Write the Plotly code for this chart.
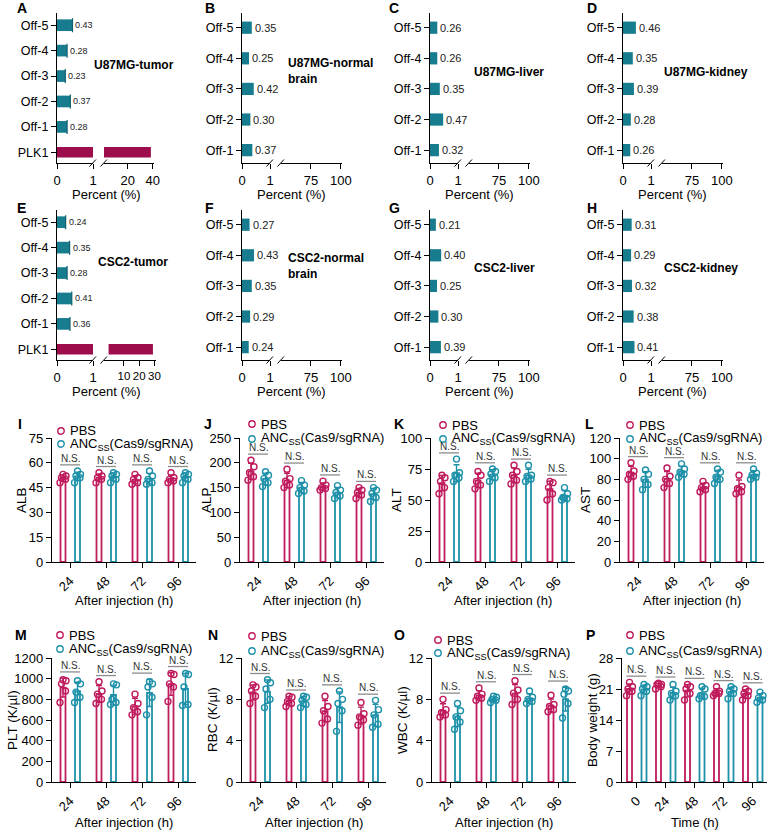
import numpy as np
import plotly.graph_objects as go

W, H = 771, 833
FONT = "Liberation Sans, Arial, Helvetica, sans-serif"

# ---------------- data: off-target editing (order Off-1 .. Off-5) ----------------
off_labels = ["Off-1", "Off-2", "Off-3", "Off-4", "Off-5"]
u87_tumor = [0.28, 0.37, 0.23, 0.28, 0.43]
u87_tumor_plk1 = 38.5
u87_brain = [0.37, 0.30, 0.42, 0.25, 0.35]
u87_liver = [0.32, 0.47, 0.35, 0.26, 0.26]
u87_kidney = [0.26, 0.28, 0.39, 0.35, 0.46]
csc2_tumor = [0.36, 0.41, 0.28, 0.35, 0.24]
csc2_tumor_plk1 = 29.0
csc2_brain = [0.24, 0.29, 0.35, 0.43, 0.27]
csc2_liver = [0.39, 0.30, 0.25, 0.40, 0.21]
csc2_kidney = [0.41, 0.38, 0.32, 0.29, 0.31]

# ---------------- data: blood chemistry / haematology ----------------
inj_times = ["24", "48", "72", "96"]
bw_times = ["0", "24", "48", "72", "96"]

alb_pbs = [[48, 50, 51, 52, 53], [48, 50, 51, 52, 54], [47, 48, 50, 51, 53], [48, 49, 50, 51, 54]]
alb_anc = [[48, 51, 52, 53, 55], [48, 50, 52, 53, 54], [47, 48, 50, 52, 55], [48, 50, 52, 53, 54]]

alp_pbs = [[165, 172, 180, 192, 205], [150, 155, 163, 168, 187], [145, 148, 150, 155, 163], [128, 135, 140, 145, 150]]
alp_anc = [[152, 160, 168, 175, 182], [138, 143, 150, 155, 164], [128, 133, 140, 145, 154], [122, 130, 138, 145, 150]]

alt_pbs = [[55, 60, 65, 68, 70], [59, 62, 65, 70, 73], [63, 66, 70, 73, 78], [50, 55, 60, 64, 65]]
alt_anc = [[65, 68, 70, 72, 83], [65, 68, 71, 73, 75], [65, 67, 69, 70, 78], [50, 51, 52, 55, 60]]

ast_pbs = [[80, 83, 85, 88, 96], [72, 76, 80, 83, 91], [68, 70, 72, 74, 78], [66, 68, 71, 73, 84]]
ast_anc = [[70, 75, 80, 85, 89], [82, 85, 87, 90, 95], [76, 80, 82, 87, 90], [80, 82, 84, 86, 90]]

plt_pbs = [[770, 880, 950, 980, 990], [760, 800, 850, 880, 970], [650, 680, 720, 760, 850], [780, 920, 950, 1040, 1050]]
plt_anc = [[770, 820, 870, 950, 980], [750, 770, 800, 940, 950], [650, 820, 920, 950, 970], [740, 750, 920, 1040, 1050]]

rbc_pbs = [[7.6, 8.3, 8.8, 9.2, 9.4], [7.3, 7.6, 7.8, 8.2, 8.3], [5.7, 6.1, 6.9, 7.3, 8.3], [5.5, 6.0, 6.3, 6.6, 7.7]]
rbc_anc = [[7.2, 8.0, 9.0, 9.6, 9.9], [7.2, 7.5, 7.9, 8.2, 8.3], [4.9, 6.9, 7.6, 8.0, 8.8], [5.3, 5.6, 6.5, 7.0, 7.9]]

wbc_pbs = [[6.3, 6.5, 6.7, 7.0, 8.0], [7.9, 8.1, 8.3, 8.5, 9.1], [7.5, 8.0, 8.6, 8.9, 9.8], [6.8, 7.0, 7.3, 7.5, 8.4]]
wbc_anc = [[5.1, 5.8, 6.3, 6.9, 7.6], [7.7, 7.9, 8.0, 8.2, 8.3], [7.6, 7.8, 8.0, 8.2, 8.8], [6.2, 7.6, 8.5, 8.8, 9.0]]

bw_pbs = [[19.5, 20.5, 21, 21.5, 22.5], [21, 21.5, 22, 22, 22.3], [18.5, 20, 21, 21.5, 22], [19.5, 20, 20, 20.5, 21.5], [18.5, 19.5, 20, 20.5, 21]]
bw_anc = [[19.5, 20.5, 21, 21.5, 22], [18.5, 19.5, 20, 20.5, 22], [18.8, 19.3, 19.5, 21, 21.5], [18.8, 20, 20.5, 21, 21.5], [18, 18.5, 19, 19.5, 20.3]]

# ---------------- styles ----------------
TEAL_BAR = "#177C8E"
PLK_BAR = "#9D0C4B"
PBS_COL = "#BF1B5D"
ANC_COL = "#1E91A9"


def px(x):
    return x / W


def py(y):
    return 1 - y / H


layout = dict(
    width=W, height=H, margin=dict(l=0, r=0, t=0, b=0, pad=0, autoexpand=False),
    plot_bgcolor="white", paper_bgcolor="white", showlegend=False,
    barmode="overlay", font=dict(family=FONT, size=13, color="black"),
)
traces, annotations, shapes = [], [], []
counter = {"x": 0, "y": 0}


def new_axis(kind):
    counter[kind] += 1
    n = counter[kind]
    ref = kind if n == 1 else f"{kind}{n}"
    key = f"{kind}axis" if n == 1 else f"{kind}axis{n}"
    return ref, key


AX = dict(showline=True, linecolor="black", linewidth=1.3, ticks="outside", ticklen=5,
          tickwidth=1.3, tickcolor="black", showgrid=False, zeroline=False, fixedrange=True,
          automargin=False, tickfont=dict(size=13, family=FONT, color="black"))


def text_px(x, y, text, size=13, bold=False, xanchor="left", yanchor="middle", angle=0, align="left"):
    annotations.append(dict(x=px(x), y=py(y), xref="paper", yref="paper",
                            text=f"<b>{text}</b>" if bold else text, showarrow=False,
                            xanchor=xanchor, yanchor=yanchor, textangle=angle, align=align,
                            font=dict(size=size, color="black", family=FONT)))


def line_px(x0, y0, x1, y1, color="black", width=1.2):
    shapes.append(dict(type="line", xref="paper", yref="paper", x0=px(x0), y0=py(y0),
                       x1=px(x1), y1=py(y1), line=dict(color=color, width=width)))


def top_panel(letter, letter_pos, title, title_pos, vals, plk1, x0, ytop, ybot, seg1_w,
              seg2_dom, seg2_range, seg2_ticks, label_size, bar_w, seg2_font=13):
    xa, xak = new_axis("x")
    xb, xbk = new_axis("x")
    ya, yak = new_axis("y")
    order = (["PLK1"] if plk1 is not None else []) + off_labels
    n = len(order)
    layout[yak] = dict(AX, type="category", categoryorder="array", categoryarray=order,
                       range=[-0.42, n - 1 + 0.48], domain=[py(ybot), py(ytop)], anchor=xa,
                       tickfont=dict(size=12.5, family=FONT, color="black"))
    layout[xak] = dict(AX, domain=[px(x0), px(x0 + seg1_w)], range=[0, 1], tickvals=[0, 1],
                       tickangle=0, anchor=ya)
    layout[xbk] = dict(AX, domain=[px(seg2_dom[0]), px(seg2_dom[1])], range=seg2_range,
                       tickvals=seg2_ticks, tickangle=0, anchor=ya,
                       tickfont=dict(size=seg2_font, family=FONT, color="black"))
    err = None
    if plk1 is not None:
        err = dict(type="data", array=[0] * len(vals), color="#0f5f6e", thickness=1.2, width=7)
    traces.append(go.Bar(x=vals, y=off_labels, orientation="h", xaxis=xa, yaxis=ya, width=bar_w,
                         marker=dict(color=TEAL_BAR, line=dict(width=0)), cliponaxis=False,
                         error_x=err, hoverinfo="skip"))
    for v, lab in zip(vals, off_labels):
        annotations.append(dict(x=v, y=lab, xref=xa, yref=ya, text=f"{v:.2f}", showarrow=False,
                                xanchor="left", xshift=1,
                                font=dict(size=label_size, color="#222", family=FONT)))
    if plk1 is not None:
        for xr in (xa, xb):
            traces.append(go.Bar(x=[plk1], y=["PLK1"], orientation="h", xaxis=xr, yaxis=ya,
                                 width=bar_w * 0.9, marker=dict(color=PLK_BAR, line=dict(width=0)),
                                 cliponaxis=True, hoverinfo="skip"))
    else:
        # same off-target bars on the upper segment (all below its range, so nothing shows)
        traces.append(go.Bar(x=vals, y=off_labels, orientation="h", xaxis=xb, yaxis=ya, width=bar_w,
                             marker=dict(color=TEAL_BAR), cliponaxis=True, hoverinfo="skip"))
    # break marks
    for bx in (x0 + seg1_w, seg2_dom[0]):
        line_px(bx - 3.5, ybot + 3.5, bx + 3, ybot - 3.5, width=1)
    text_px(x0 + 49, ybot + 31, "Percent (%)", size=13, xanchor="center")
    text_px(title_pos[0], title_pos[1], title, size=12, bold=True)
    text_px(letter_pos[0], letter_pos[1], letter, size=14, bold=True)


def bottom_panel(letter, letter_pos, ylabel, ylabel_x, pbs, anc, cats, ymax, dtick, x0, ytop, ybot,
                 spacing, xlabel, xlabel_y, legend_pos):
    xa, xak = new_axis("x")
    ya, yak = new_axis("y")
    n = len(cats)
    layout[xak] = dict(AX, domain=[px(x0), px(x0 + n * spacing)], range=[-0.5, n - 0.5],
                       tickvals=list(range(n)), ticktext=cats, tickangle=-45, anchor=ya)
    layout[yak] = dict(AX, domain=[py(ybot), py(ytop)], range=[0, ymax], dtick=dtick, tick0=0, anchor=xa)
    tops = [0.0] * n
    for grp, col, off_px in ((pbs, PBS_COL, -7), (anc, ANC_COL, 7.5)):
        arr = [np.array(g, float) for g in grp]
        means = [a.mean() for a in arr]
        sds = [a.std(ddof=1) for a in arr]
        xpos = [i + off_px / spacing for i in range(n)]
        traces.append(go.Bar(x=xpos, y=means, width=5 / spacing, xaxis=xa, yaxis=ya,
                             marker=dict(color="white", line=dict(color=col, width=1.8)),
                             error_y=dict(type="data", array=sds, color=col, thickness=1.4, width=3),
                             hoverinfo="skip"))
        jit = [-3, 2.5, -1.5, 3, 0]
        sx, sy = [], []
        for i, a in enumerate(arr):
            tops[i] = max(tops[i], a.max(), means[i] + sds[i])
            for k, v in enumerate(a):
                sx.append(xpos[i] + jit[k % 5] / spacing)
                sy.append(v)
        traces.append(go.Scatter(x=sx, y=sy, mode="markers", xaxis=xa, yaxis=ya,
                                 marker=dict(symbol="circle-open", size=6, color=col,
                                             line=dict(width=1.4, color=col)),
                                 hoverinfo="skip"))
    half = 10 / spacing
    for i in range(n):
        yl = tops[i] + 0.05 * ymax
        shapes.append(dict(type="line", xref=xa, yref=ya, x0=i - half, x1=i + half, y0=yl, y1=yl,
                           line=dict(color="#8c8c8c", width=1.3)))
        annotations.append(dict(x=i, y=yl, xref=xa, yref=ya, text="N.S.", showarrow=False,
                                yanchor="bottom", yshift=-1,
                                font=dict(size=10, color="#333", family=FONT)))
    # axis titles
    text_px(x0 + n * spacing / 2, xlabel_y, xlabel, size=13, xanchor="center")
    text_px(ylabel_x, (ytop + ybot) / 2, ylabel, size=13.5, xanchor="center", angle=-90)
    text_px(letter_pos[0], letter_pos[1], letter, size=14, bold=True)
    # legend
    cx, cy1, cy2 = legend_pos
    for cy, col, lab in ((cy1, PBS_COL, "PBS"), (cy2, ANC_COL, "ANC<sub>SS</sub>(Cas9/sgRNA)")):
        r = 3.2
        shapes.append(dict(type="circle", xref="paper", yref="paper", x0=px(cx - r), x1=px(cx + r),
                           y0=py(cy + r), y1=py(cy - r), line=dict(color=col, width=1.4)))
        text_px(cx + 7, cy, lab, size=13)


# ---------------- top rows ----------------
top_panel("A", (15, 8), "U87MG-tumor", (92, 65), u87_tumor, u87_tumor_plk1, 57, 13, 163, 36,
          (104, 154), [1, 41], [20, 40], 9, 0.46)
top_panel("B", (203, 8), "U87MG-normal<br>brain", (286, 71), u87_brain, None, 242, 13, 163, 28,
          (281, 342), [50, 101], [75, 100], 11, 0.4)
top_panel("C", (387, 8), "U87MG-liver", (472, 72), u87_liver, None, 430, 13, 163, 28,
          (469, 530), [50, 101], [75, 100], 11, 0.4)
top_panel("D", (585, 8), "U87MG-kidney", (662, 72), u87_kidney, None, 623, 13, 163, 28,
          (662, 723), [50, 101], [75, 100], 11, 0.4)

top_panel("E", (15, 208), "CSC2-tumor", (96, 262), csc2_tumor, csc2_tumor_plk1, 57, 210, 360, 36,
          (104, 156), [-3, 31], [10, 20, 30], 9, 0.46, seg2_font=11.5)
top_panel("F", (203, 208), "CSC2-normal<br>brain", (286, 266), csc2_brain, None, 242, 210, 360, 28,
          (281, 342), [50, 101], [75, 100], 11, 0.4)
top_panel("G", (387, 208), "CSC2-liver", (472, 268), csc2_liver, None, 430, 210, 360, 28,
          (469, 530), [50, 101], [75, 100], 11, 0.4)
top_panel("H", (585, 208), "CSC2-kidney", (662, 268), csc2_kidney, None, 623, 210, 360, 28,
          (662, 723), [50, 101], [75, 100], 11, 0.4)

# ---------------- bottom rows ----------------
XL = "After injection (h)"
bottom_panel("I", (16, 424), "ALB", 22, alb_pbs, alb_anc, inj_times, 75, 15, 52, 438, 562, 36, XL, 600, (61, 431, 444))
bottom_panel("J", (202, 424), "ALP", 207, alp_pbs, alp_anc, inj_times, 250, 50, 240, 438, 562, 36, XL, 600, (252, 424, 439))
bottom_panel("K", (392, 424), "ALT", 397, alt_pbs, alt_anc, inj_times, 100, 25, 431, 438, 562, 36, XL, 600, (443, 425, 439))
bottom_panel("L", (583, 424), "AST", 586, ast_pbs, ast_anc, inj_times, 120, 20, 620, 438, 562, 36, XL, 600, (630, 425, 439))

bottom_panel("M", (13, 635), "PLT (K/µl)", 12, plt_pbs, plt_anc, inj_times, 1200, 200, 52, 658, 782, 36, XL, 822, (60, 635, 649))
bottom_panel("N", (206, 635), "RBC (K/µl)", 212, rbc_pbs, rbc_anc, inj_times, 12, 4, 242, 658, 782, 36, XL, 822, (252, 636, 651))
bottom_panel("O", (392, 635), "WBC (K/µl)", 402, wbc_pbs, wbc_anc, inj_times, 12, 4, 432, 658, 782, 36, XL, 822, (438, 640, 653))
bottom_panel("P", (584, 635), "Body weight (g)", 592, bw_pbs, bw_anc, bw_times, 28, 7, 622, 658, 782, 29, "Time (h)", 822, (630, 635, 651))

layout["annotations"] = annotations
layout["shapes"] = shapes
fig = go.Figure(data=traces, layout=layout)
fig.write_html("out.html", config={"displayModeBar": False},
               post_script="document.body.style.margin='0';document.body.style.overflow='hidden';")
